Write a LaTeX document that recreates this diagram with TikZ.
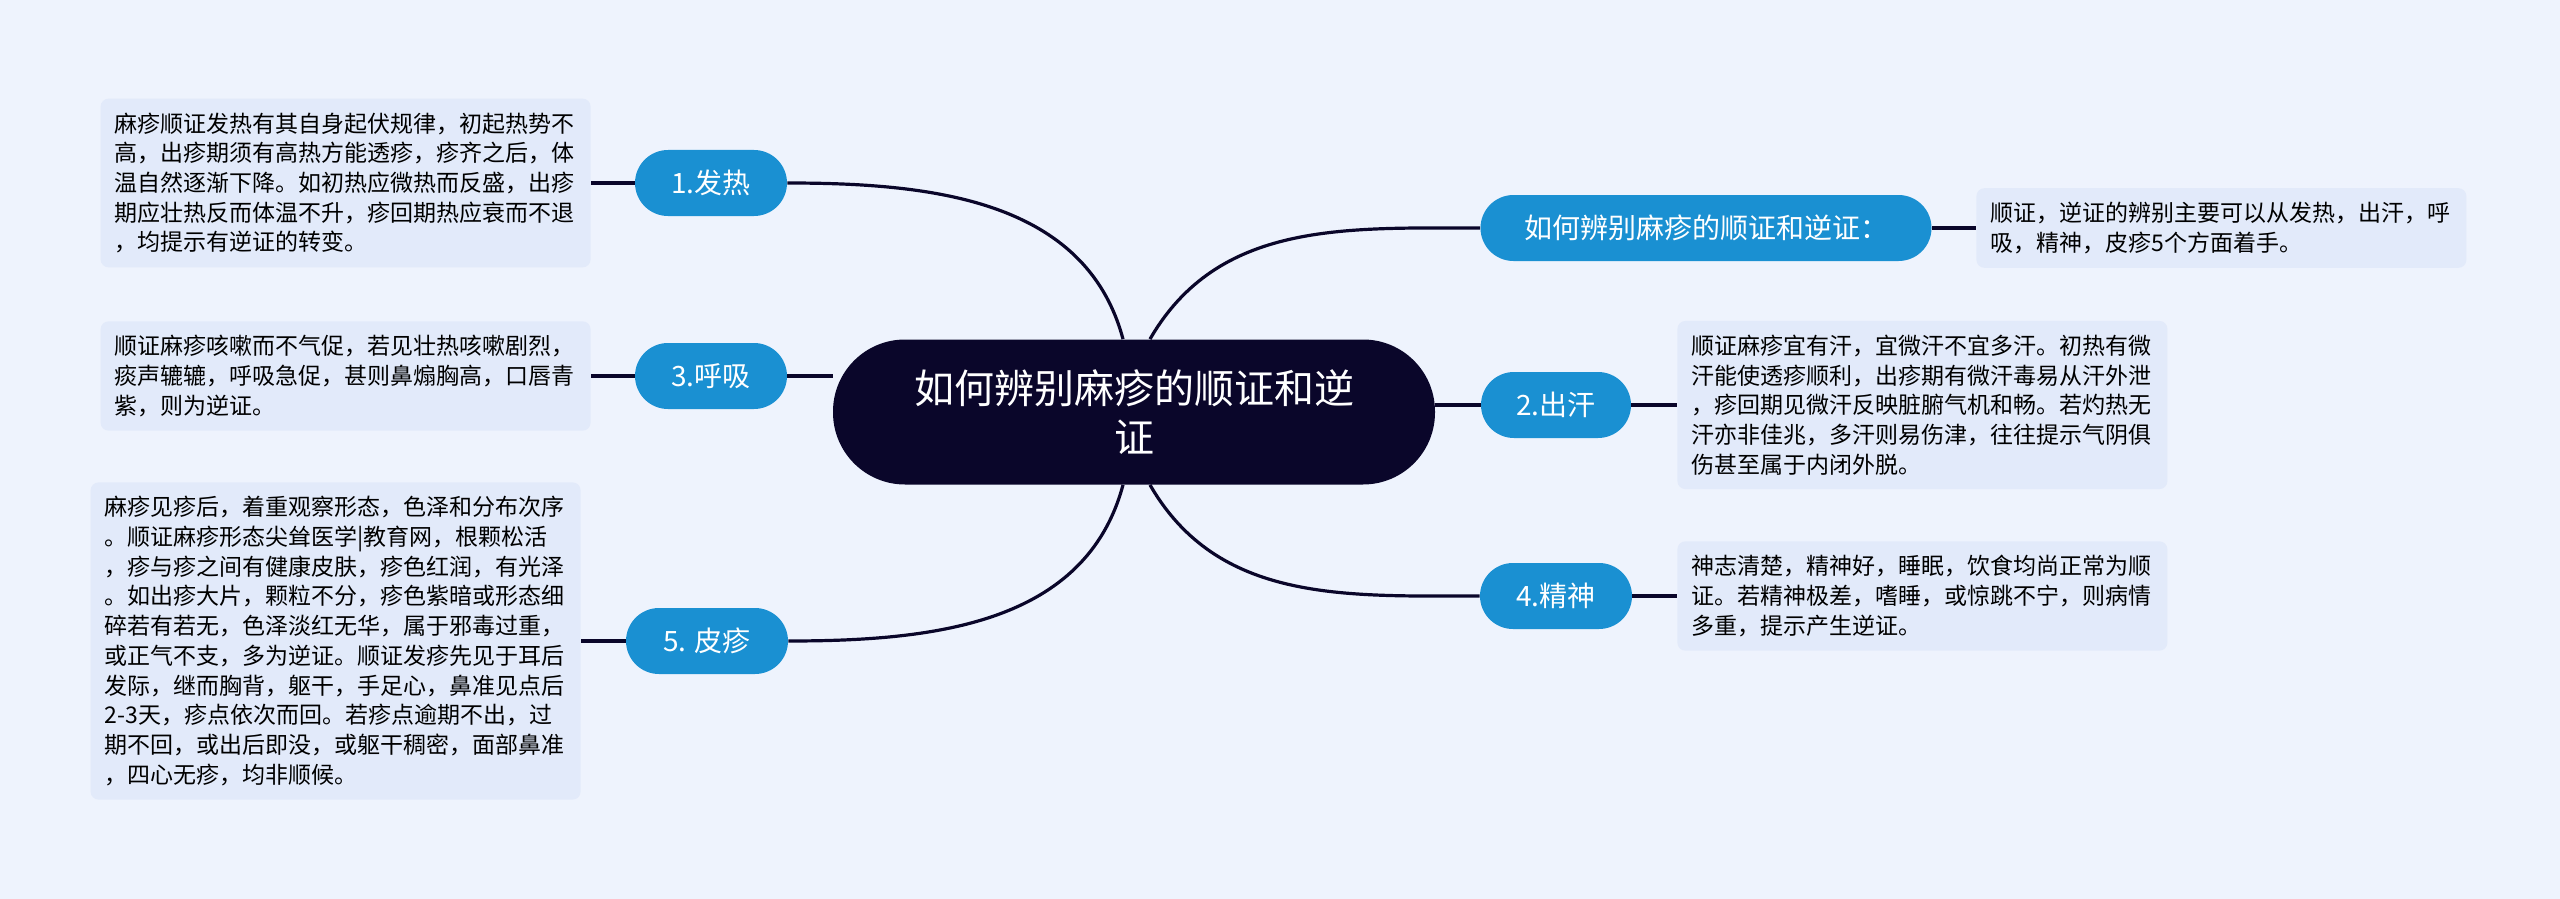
\documentclass[tikz,border=0pt]{standalone}
\usepackage{fontspec}
\setmainfont{Noto Sans CJK SC}
\usetikzlibrary{positioning}

\definecolor{bgblue}{RGB}{238,243,253}
\definecolor{boxblue}{RGB}{226,234,250}
\definecolor{nodeblue}{RGB}{26,144,210}
\definecolor{navy}{RGB}{10,6,42}

\tikzset{
  mainnode/.style={fill=navy, text=white, rounded corners=36pt,
    minimum width=301pt, minimum height=72.5pt, align=center,
    font=\fontsize{20pt}{24.5pt}\selectfont},
  branch/.style={fill=nodeblue, text=white, rounded corners=16.5pt,
    minimum height=33pt, font=\fontsize{14pt}{17pt}\selectfont},
  notebox/.style={fill=boxblue, rounded corners=4pt, text width=231pt,
    align=left, inner xsep=7pt, inner ysep=7pt,
    font=\fontsize{11.5pt}{14.85pt}\selectfont},
  link/.style={draw=navy, line width=1.6pt},
}

\begin{document}
\begin{tikzpicture}[x=0.5pt, y=-0.5pt]
  \fill[bgblue] (0,0) rectangle (2560,899);

  % centre
  \node[mainnode] (ctr) at (1134,412) {如何辨别麻疹的顺证和逆\\证};

  % branches
  \node[branch, minimum width=76pt] (fever) at (711,183) {1.发热};
  \node[branch, minimum width=76pt] (breath) at (711,376) {3.呼吸};
  \node[branch, minimum width=81pt] (rash) at (707,641) {5. 皮疹};
  \node[branch, minimum width=225.5pt] (howto) at (1706,228) {如何辨别麻疹的顺证和逆证：};
  \node[branch, minimum width=75pt] (sweat) at (1556,405) {2.出汗};
  \node[branch, minimum width=76pt] (spirit) at (1556,596) {4.精神};

  % notes
  \node[notebox, anchor=east] (feverbox) at (591,183) {麻疹顺证发热有其自身起伏规律，初起热势不\\
    高，出疹期须有高热方能透疹，疹齐之后，体\\
    温自然逐渐下降。如初热应微热而反盛，出疹\\
    期应壮热反而体温不升，疹回期热应衰而不退\\
    ，均提示有逆证的转变。};
  \node[notebox, anchor=east] (breathbox) at (591,376) {顺证麻疹咳嗽而不气促，若见壮热咳嗽剧烈，\\
    痰声辘辘，呼吸急促，甚则鼻煽胸高，口唇青\\
    紫，则为逆证。};
  \node[notebox, anchor=east] (rashbox) at (581,641) {麻疹见疹后，着重观察形态，色泽和分布次序\\
    。顺证麻疹形态尖耸医学|教育网，根颗松活\\
    ，疹与疹之间有健康皮肤，疹色红润，有光泽\\
    。如出疹大片，颗粒不分，疹色紫暗或形态细\\
    碎若有若无，色泽淡红无华，属于邪毒过重，\\
    或正气不支，多为逆证。顺证发疹先见于耳后\\
    发际，继而胸背，躯干，手足心，鼻准见点后\\
    2-3天，疹点依次而回。若疹点逾期不出，过\\
    期不回，或出后即没，或躯干稠密，面部鼻准\\
    ，四心无疹，均非顺候。};
  \node[notebox, anchor=west] (howtobox) at (1976,228) {顺证，逆证的辨别主要可以从发热，出汗，呼\\
    吸，精神，皮疹5个方面着手。};
  \node[notebox, anchor=west] (sweatbox) at (1677,405) {顺证麻疹宜有汗，宜微汗不宜多汗。初热有微\\
    汗能使透疹顺利，出疹期有微汗毒易从汗外泄\\
    ，疹回期见微汗反映脏腑气机和畅。若灼热无\\
    汗亦非佳兆，多汗则易伤津，往往提示气阴俱\\
    伤甚至属于内闭外脱。};
  \node[notebox, anchor=west] (spiritbox) at (1677,596) {神志清楚，精神好，睡眠，饮食均尚正常为顺\\
    证。若精神极差，嗜睡，或惊跳不宁，则病情\\
    多重，提示产生逆证。};

  % connectors
  \coordinate (ctrNW) at ([xshift=-5.5pt]ctr.north);
  \coordinate (ctrNE) at ([xshift=8pt]ctr.north);
  \coordinate (ctrSW) at ([xshift=-5.5pt]ctr.south);
  \coordinate (ctrSE) at ([xshift=8pt]ctr.south);
  \begin{scope}[link]
    \draw (ctrNW) to[out=105, in=0] (fever.east);
    \draw (ctr.west |- breath) -- (breath.east);
    \draw (ctrSW) to[out=-105, in=0] (rash.east);
    \draw (ctrNE) to[out=60, in=180] (howto.west);
    \draw (ctr.east |- sweat) -- (sweat.west);
    \draw (ctrSE) to[out=-60, in=180] (spirit.west);
    \draw (fever) -- (feverbox);
    \draw (breath) -- (breathbox);
    \draw (rash) -- (rashbox);
    \draw (howto) -- (howtobox);
    \draw (sweat) -- (sweatbox);
    \draw (spirit) -- (spiritbox);
  \end{scope}
\end{tikzpicture}
\end{document}
